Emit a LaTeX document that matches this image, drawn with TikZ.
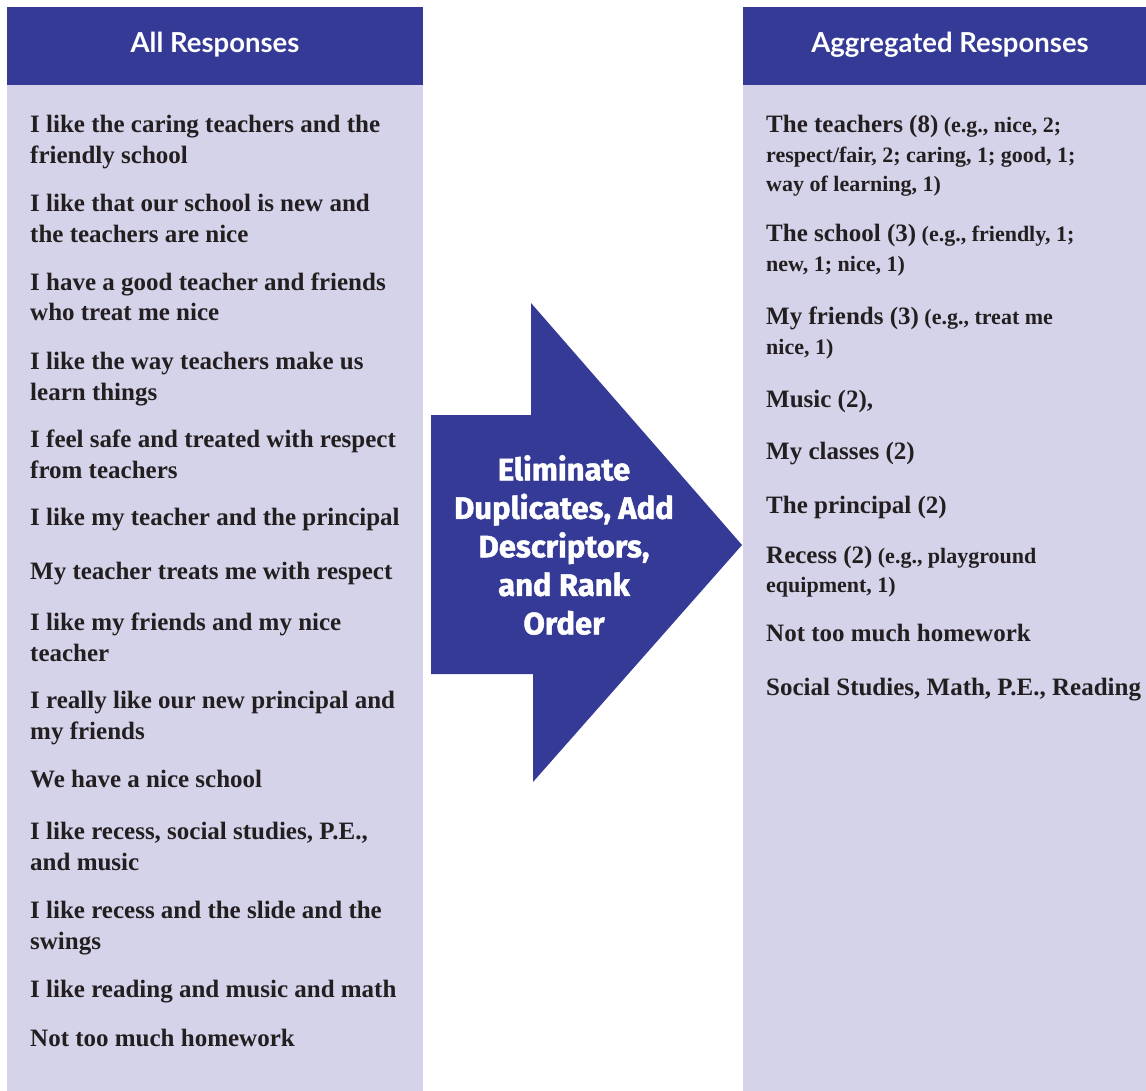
\documentclass[tikz,border=0pt]{standalone}
\usepackage{fontspec}
\setmainfont{Liberation Serif}
\newfontfamily\headfont{Lato}
\newfontfamily\arrowfont[BoldFeatures={FakeBold=1.5}]{Fira Sans}
\definecolor{hdrblue}{RGB}{53,58,150}
\definecolor{panel}{RGB}{213,211,234}
\definecolor{ink}{RGB}{35,31,32}

\begin{document}
\begin{tikzpicture}[x=1pt,y=-1pt,
	resp/.style={anchor=base west,align=left,inner sep=0pt,text=ink,font=\bfseries\fontsize{25}{31}\selectfont},
	agg/.style={resp,font=\bfseries\fontsize{22}{29.5}\selectfont},
	hdr/.style={text=white,inner sep=0pt,font=\headfont\bfseries\fontsize{27.5}{30}\selectfont}]
\useasboundingbox (0,0) rectangle (1146,1091);

\fill[panel] (7,85) rectangle (423,1091);
\fill[panel] (743,85) rectangle (1146,1091);
\fill[hdrblue] (7,7) rectangle (423,85);
\fill[hdrblue] (743,7) rectangle (1146,85);
\fill[hdrblue] (431,415) -- (531,415) -- (531,303) -- (742,545) -- (533,782) -- (533,674) -- (431,674) -- cycle;

\path (215,45) node[hdr] (all) {All Responses}
		(950,45) node[hdr] (agg) {Aggregated Responses}
		(564,545) node[text=white,align=center,font=\arrowfont\bfseries\fontsize{31}{38.5}\selectfont] (elim) {Eliminate\\Duplicates, Add\\Descriptors,\\and Rank\\Order}
		;

% anchors sit on the last line of each entry
\path (30,164) node[resp] (r1) {I like the caring teachers and the\\friendly school}
		(30,243) node[resp] (r2) {I like that our school is new and\\the teachers are nice}
		(30,321) node[resp] (r3) {I have a good teacher and friends\\who treat me nice}
		(30,400) node[resp] (r4) {I like the way teachers make us\\learn things}
		(30,478) node[resp] (r5) {I feel safe and treated with respect\\from teachers}
		(30,525) node[resp] (r6) {I like my teacher and the principal}
		(30,579) node[resp] (r7) {My teacher treats me with respect}
		(30,661) node[resp] (r8) {I like my friends and my nice\\teacher}
		(30,739) node[resp] (r9) {I really like our new principal and\\my friends}
		(30,787) node[resp] (r10) {We have a nice school}
		(30,870) node[resp] (r11) {I like recess, social studies, P.E.,\\and music}
		(30,949) node[resp] (r12) {I like recess and the slide and the\\swings}
		(30,997) node[resp] (r13) {I like reading and music and math}
		(30,1046) node[resp] (r14) {Not too much homework}
		;

\path (766,192) node[agg] (a1) {{\fontsize{25}{29.5}\selectfont The teachers (8)} (e.g., nice, 2;\\respect/fair, 2; caring, 1; good, 1;\\way of learning, 1)}
		(766,271.5) node[agg] (a2) {{\fontsize{25}{29.5}\selectfont The school (3)} (e.g., friendly, 1;\\new, 1; nice, 1)}
		(766,354.5) node[agg] (a3) {{\fontsize{25}{29.5}\selectfont My friends (3)} (e.g., treat me\\nice, 1)}
		(766,407) node[resp] (a4) {Music (2),}
		(766,459) node[resp] (a5) {My classes (2)}
		(766,513) node[resp] (a6) {The principal (2)}
		(766,592.5) node[agg] (a7) {{\fontsize{25}{29.5}\selectfont Recess (2)} (e.g., playground\\equipment, 1)}
		(766,641) node[resp] (a8) {Not too much homework}
		(766,695) node[resp] (a9) {Social Studies, Math, P.E., Reading}
		;
\end{tikzpicture}
\end{document}
